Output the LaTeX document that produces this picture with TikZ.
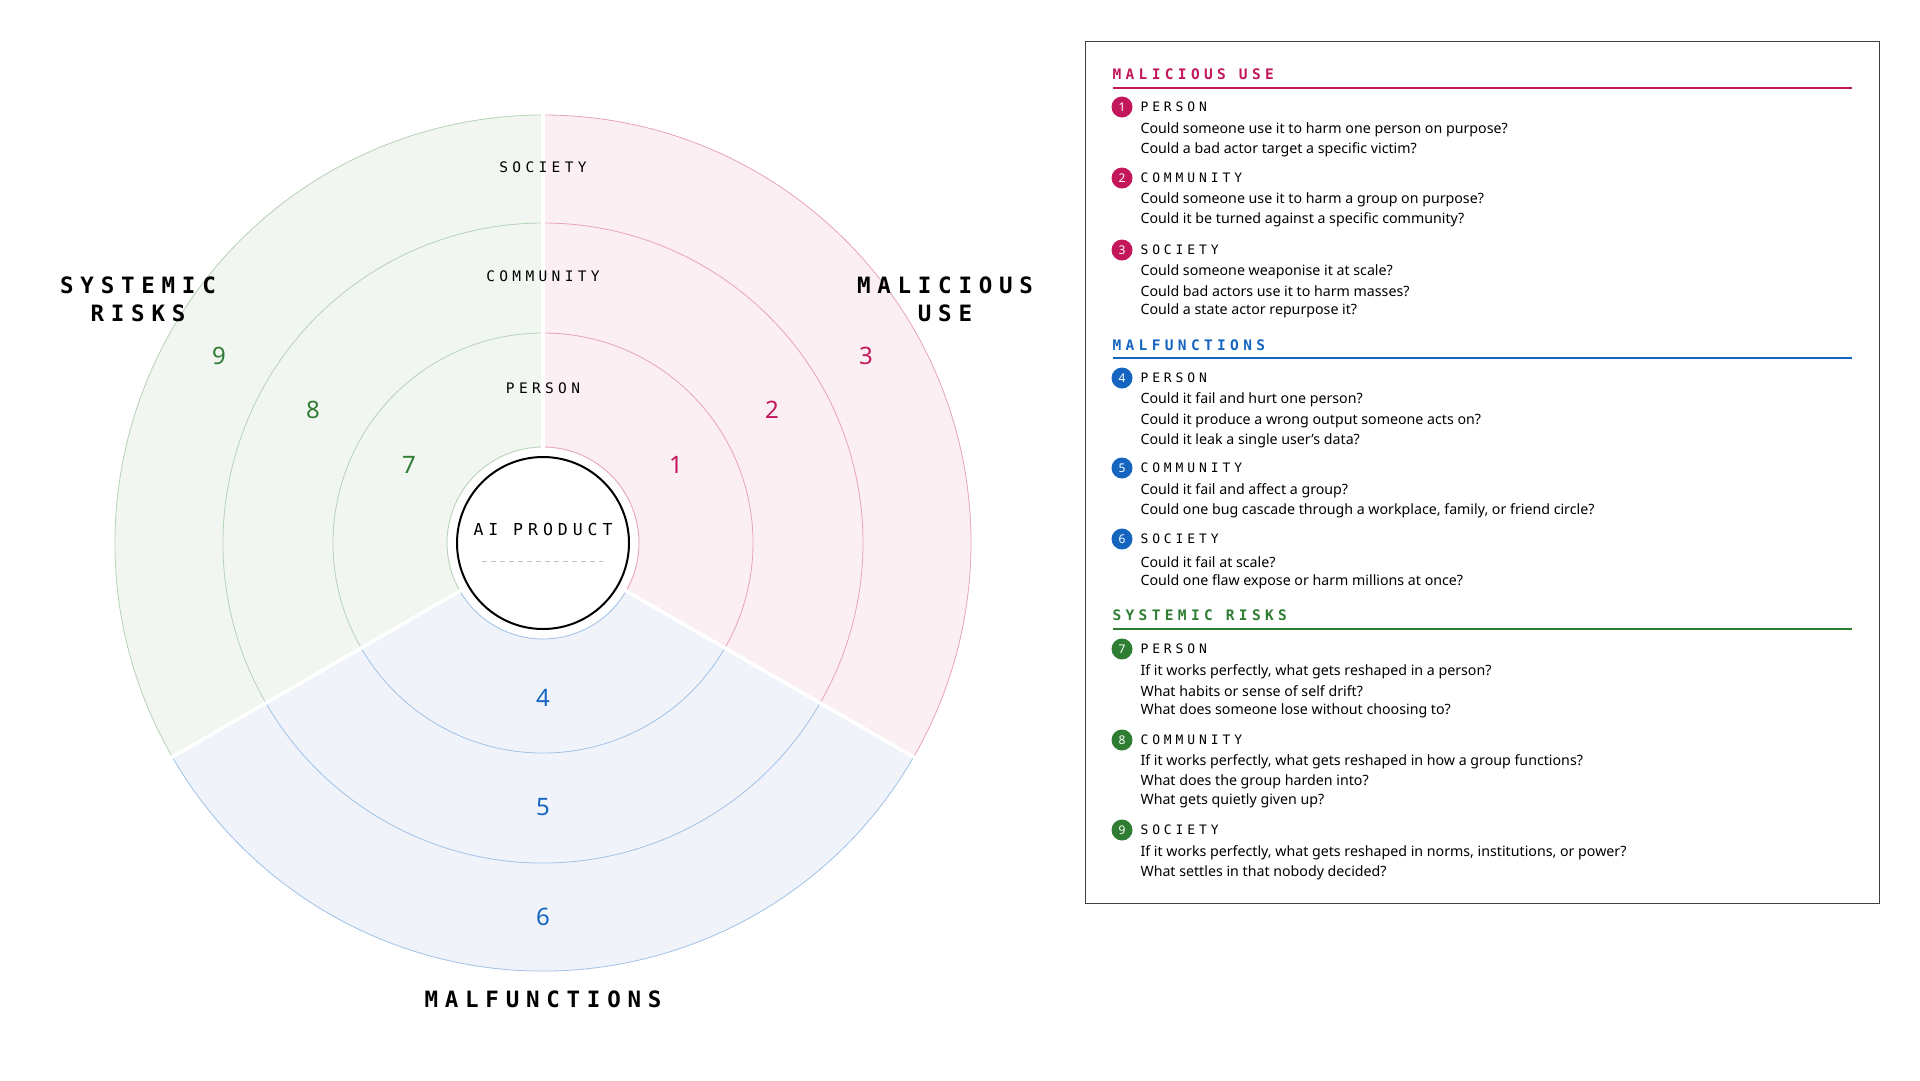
\documentclass[tikz,border=0pt]{standalone}
\usepackage{fontspec}
\setmainfont{Noto Sans}
\setsansfont{Noto Sans}
\newfontfamily\spacedmono[LetterSpace=30]{DejaVu Sans Mono}
\usetikzlibrary{calc}
\definecolor{malc}{HTML}{C2185B}
\definecolor{malf}{HTML}{1565C0}
\definecolor{sysc}{HTML}{2E7D32}
\definecolor{malbg}{HTML}{FBEFF3}
\definecolor{malfbg}{HTML}{F0F4FA}
\definecolor{sysbg}{HTML}{F1F6F1}
\tikzset{
  ringlbl/.style={font=\spacedmono\fontsize{14.5}{14.5}\selectfont},
  biglbl/.style={font=\spacedmono\bfseries\fontsize{22.5}{28}\selectfont,align=center},
  ringnum/.style={font=\sffamily\bfseries\fontsize{24}{24}\selectfont},
  bullet/.style={circle,fill=#1,inner sep=0pt,minimum size=21pt,text=white,font=\sffamily\bfseries\fontsize{12}{12}\selectfont},
  head/.style={anchor=west,font=\spacedmono\bfseries\fontsize{14.5}{14.5}\selectfont,text=#1},
  itemlbl/.style={anchor=west,font=\spacedmono\fontsize{13}{13}\selectfont},
  qline/.style={anchor=west,font=\fontsize{14.2}{14.2}\selectfont}
}
\newcommand{\sector}[4]{% start angle, end angle, fill, line colour
  \fill[#3] (543,543) -- ++(#1:428) arc[start angle=#1,end angle=#2,radius=428] -- cycle;
  \foreach \r in {210,320,428}
    \draw[#4,line width=0.8pt] ($(543,543)+(#1:\r)$) arc[start angle=#1,end angle=#2,radius=\r];
  \draw[#4,line width=0.8pt] ($(543,543)+(#1:96)$) arc[start angle=#1,end angle=#2,radius=96];
}
\begin{document}
\begin{tikzpicture}[x=1pt,y=-1pt]
  \useasboundingbox[fill=white] (0,0) rectangle (1920,1080);
  % wheel
  \fill[white] (543,543) circle (96);
  \sector{-90}{30}{malbg}{malc!40}
  \sector{30}{150}{malfbg}{malf!40}
  \sector{150}{270}{sysbg}{sysc!35}
  \fill[white] (543,543) circle (95);
  \foreach \a in {-90,30,150}
    \draw[white,line width=3.5pt] (543,543) -- ++(\a:432);
  \node[circle,draw=black,line width=2pt,fill=white,minimum size=172pt,inner sep=0pt] (core) at (543,543) {};
  \node[ringlbl,font=\spacedmono\fontsize{16.5}{16.5}\selectfont] (prod) at (543,529) {AI PRODUCT};
  \draw[black!25,dash pattern=on 5pt off 4pt,line width=1pt] (482,561) -- (603,561);
  \node[ringlbl] (soc) at (543,167) {SOCIETY};
  \node[ringlbl] (com) at (543,276) {COMMUNITY};
  \node[ringlbl] (per) at (543,388) {PERSON};
  \node[ringnum,text=malc] (n1) at (676,465) {1};
  \node[ringnum,text=malc] (n2) at (772,410) {2};
  \node[ringnum,text=malc] (n3) at (866,356) {3};
  \node[ringnum,text=malf] (n4) at (543,698) {4};
  \node[ringnum,text=malf] (n5) at (543,807) {5};
  \node[ringnum,text=malf] (n6) at (543,917) {6};
  \node[ringnum,text=sysc] (n7) at (409,465) {7};
  \node[ringnum,text=sysc] (n8) at (313,410) {8};
  \node[ringnum,text=sysc] (n9) at (219,356) {9};
  \node[biglbl] (sysl) at (138,299) {SYSTEMIC\\RISKS};
  \node[biglbl] (mall) at (945,299) {MALICIOUS\\USE};
  \node[biglbl] (malfl) at (543,999) {MALFUNCTIONS};
  % legend
  \draw[black!75,line width=1pt] (1085,41) rectangle (1879,903);
  \node[head=malc] (hm) at (1109,74) {MALICIOUS USE};
  \draw[malc,line width=1.5pt] (1113,88) -- (1852,88);
  \node[head=malf] (hf) at (1109,345) {MALFUNCTIONS};
  \draw[malf,line width=1.5pt] (1113,358) -- (1852,358);
  \node[head=sysc] (hs) at (1109,615) {SYSTEMIC RISKS};
  \draw[sysc,line width=1.5pt] (1113,629) -- (1852,629);
  \foreach \n/\c/\y/\lbl in {1/malc/107/PERSON,2/malc/178/COMMUNITY,3/malc/250/SOCIETY,
      4/malf/378/PERSON,5/malf/468/COMMUNITY,6/malf/539/SOCIETY,
      7/sysc/649/PERSON,8/sysc/740/COMMUNITY,9/sysc/830/SOCIETY} {
    \node[bullet=\c] (b\n) at (1122,\y) {\n};
    \node[itemlbl] (l\n) at (1137,\y) {\lbl};
  }
  \foreach \y/\q in {130/{Could someone use it to harm one person on purpose?},
      150/{Could a bad actor target a specific victim?},
      200/{Could someone use it to harm a group on purpose?},
      220/{Could it be turned against a specific community?},
      272/{Could someone weaponise it at scale?},
      291/{Could bad actors use it to harm masses?},
      311/{Could a state actor repurpose it?},
      400/{Could it fail and hurt one person?},
      421/{Could it produce a wrong output someone acts on?},
      441/{Could it leak a single user’s data?},
      491/{Could it fail and affect a group?},
      511/{Could one bug cascade through a workplace, family, or friend circle?},
      562/{Could it fail at scale?},
      582/{Could one flaw expose or harm millions at once?},
      672/{If it works perfectly, what gets reshaped in a person?},
      691/{What habits or sense of self drift?},
      711/{What does someone lose without choosing to?},
      762/{If it works perfectly, what gets reshaped in how a group functions?},
      782/{What does the group harden into?},
      801/{What gets quietly given up?},
      853/{If it works perfectly, what gets reshaped in norms, institutions, or power?},
      873/{What settles in that nobody decided?}}
    \node[qline] at (1137,\y) {\q};
\end{tikzpicture}
\end{document}
